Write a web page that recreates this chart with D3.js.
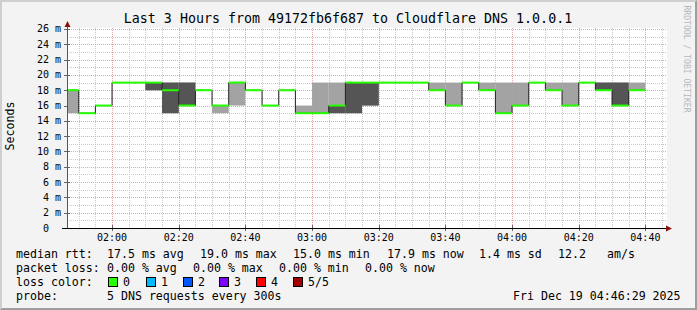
<!DOCTYPE html>
<html>
<head>
<meta charset="utf-8">
<script src="https://cdn.jsdelivr.net/npm/d3@7"></script>
<style>
  body { margin: 0; background: #f3f3f3; }
  svg text { font-family: "DejaVu Sans Mono", monospace; fill: #000; white-space: pre; }
</style>
</head>
<body>
<svg id="chart" width="697" height="310"></svg>
<script>
// sample end times (each covers the 5 minutes before it)
const sampleTimes = ["01:50","01:55","02:00","02:05","02:10","02:15","02:20","02:25","02:30","02:35",
  "02:40","02:45","02:50","02:55","03:00","03:05","03:10","03:15","03:20","03:25",
  "03:30","03:35","03:40","03:45","03:50","03:55","04:00","04:05","04:10","04:15",
  "04:20","04:25","04:30","04:35","04:40"];
// ms
const median = [18,15,16,19,19,19,18,16,18,16,19,18,16,18,15,15,16,19,19,19,19,19,18,16,19,18,15,16,19,18,16,19,18,16,18];
const pingMin = [15,15,16,19,19,18,15,16,18,15,16,18,16,18,15,15,15,15,16,19,19,19,18,16,19,18,15,16,19,18,16,19,18,16,18];
const pingLo  = [18,15,16,19,19,18,15,16,18,16,19,18,16,18,15,15,15,15,16,19,19,19,18,16,19,18,15,16,19,18,16,19,18,16,18];
const pingHi  = [18,15,16,19,19,19,19,19,18,16,19,18,16,18,15,15,16,19,19,19,19,19,18,16,19,18,15,16,19,18,16,19,19,19,18];
const pingMax = [18,15,16,19,19,19,19,19,18,16,19,18,16,18,16,19,19,19,19,19,19,19,19,19,19,19,19,19,19,19,19,19,19,19,19];

const yTickLabels = ["0","2 m","4 m","6 m","8 m","10 m","12 m","14 m","16 m","18 m","20 m","22 m","24 m","26 m"];
const xTickLabels = ["02:00","02:20","02:40","03:00","03:20","03:40","04:00","04:20","04:40"];

const lossLabels = ["0","1","2","3","4","5/5"];
const lossColors = ["#26ff00","#00b8ff","#0059ff","#7e00ff","#ff0000","#a10000"];

const day = "2025-12-19 ";
const parse = d3.timeParse("%Y-%m-%d %H:%M:%S");
const tStart = parse(day + "01:46:29"), tEnd = parse(day + "04:46:29");
const times = sampleTimes.map(s => parse(day + s + ":00"));

const svg = d3.select("#chart");
const W = 697, H = 310;

// frame
svg.append("rect").attr("width", W).attr("height", H).attr("fill", "#9e9e9e");
svg.append("path").attr("d", `M0,0H${W}L${W-2},2H2V${H-2}L0,${H}Z`).attr("fill", "#cfcfcf");
svg.append("rect").attr("x", 2).attr("y", 2).attr("width", W - 4).attr("height", H - 4).attr("fill", "#f3f3f3");

const x = d3.scaleTime().domain([tStart, tEnd]).range([67, 667]);
const y = d3.scaleLinear().domain([0, 26.13]).range([228, 28]);
const px = v => Math.round(v) + 0.5;

svg.append("rect").attr("x", 67).attr("y", 28).attr("width", 600).attr("height", 200).attr("fill", "#fff");

// grid
const g = svg.append("g");
d3.range(1, 27).filter(v => v % 2).forEach(v => {
  g.append("line").attr("x1", 67).attr("x2", 667).attr("y1", px(y(v))).attr("y2", px(y(v)))
    .attr("stroke", "#c8c8c8").attr("stroke-dasharray", "1,1");
});
d3.timeMinute.every(5).range(tStart, tEnd).filter(t => t.getMinutes() % 20).forEach(t => {
  g.append("line").attr("y1", 28).attr("y2", 228).attr("x1", px(x(t))).attr("x2", px(x(t)))
    .attr("stroke", "#c8c8c8").attr("stroke-dasharray", "1,1");
});
yTickLabels.forEach((lab, i) => {
  const v = i * 2;
  if (v > 0) g.append("line").attr("x1", 67).attr("x2", 667).attr("y1", px(y(v))).attr("y2", px(y(v)))
    .attr("stroke", "#f2a0a0").attr("stroke-dasharray", "1,1");
  svg.append("text").attr("x", 61).attr("y", y(v) + 3.5).attr("text-anchor", "end")
    .attr("font-size", "10px").text(v === 0 ? lab + "  " : lab);
  svg.append("line").attr("x1", 64).attr("x2", 70).attr("y1", px(y(v))).attr("y2", px(y(v))).attr("stroke", "#666");
});
xTickLabels.forEach(lab => {
  const t = parse(day + lab + ":00");
  g.append("line").attr("y1", 28).attr("y2", 228).attr("x1", px(x(t))).attr("x2", px(x(t)))
    .attr("stroke", "#f2a0a0").attr("stroke-dasharray", "1,1");
  svg.append("text").attr("x", x(t)).attr("y", 241).attr("text-anchor", "middle")
    .attr("font-size", "10px").text(lab);
  svg.append("line").attr("x1", px(x(t))).attr("x2", px(x(t))).attr("y1", 225).attr("y2", 231).attr("stroke", "#666");
});

// smoke + median
const fiveMin = 5 * 60 * 1000;
const segs = times.map((t, i) => ({
  x0: x(new Date(Math.max(+tStart, +t - fiveMin))), x1: x(t),
  med: median[i], mn: pingMin[i], lo: pingLo[i], hi: pingHi[i], mx: pingMax[i]
}));
const data = svg.append("g");
data.selectAll(".light").data(segs).enter().append("rect")
  .attr("x", d => d.x0).attr("width", d => d.x1 - d.x0)
  .attr("y", d => y(d.mx)).attr("height", d => y(d.mn) - y(d.mx)).attr("fill", "#a3a3a3");
data.selectAll(".dark").data(segs).enter().append("rect")
  .attr("x", d => d.x0).attr("width", d => d.x1 - d.x0)
  .attr("y", d => y(d.hi)).attr("height", d => y(d.lo) - y(d.hi)).attr("fill", "#555555");

const stepLine = d3.line().curve(d3.curveStepBefore);
const pts = [[segs[0].x0, y(segs[0].med)]].concat(segs.map(d => [d.x1, y(d.med)]));
data.append("path").attr("d", stepLine(pts)).attr("fill", "none").attr("stroke", "#202020").attr("stroke-width", 1);
data.selectAll(".med").data(segs).enter().append("line")
  .attr("x1", d => d.x0).attr("x2", d => d.x1).attr("y1", d => y(d.med)).attr("y2", d => y(d.med))
  .attr("stroke", lossColors[0]).attr("stroke-width", 2);

// axes
svg.append("line").attr("x1", 67.5).attr("x2", 67.5).attr("y1", 228).attr("y2", 24).attr("stroke", "#555");
svg.append("line").attr("x1", 62).attr("x2", 668).attr("y1", 228.5).attr("y2", 228.5).attr("stroke", "#000");
svg.append("path").attr("d", "M64.5,27L67.5,21L70.5,27Z").attr("fill", "#8b1010");
svg.append("path").attr("d", "M666,225.5L672,228.5L666,231.5Z").attr("fill", "#8b1010");

// texts
svg.append("text").attr("x", 348).attr("y", 23).attr("text-anchor", "middle").attr("font-size", "13.3px")
  .text("Last 3 Hours from 49172fb6f687 to Cloudflare DNS 1.0.0.1");
svg.append("text").attr("transform", "translate(14,126) rotate(-90)").attr("text-anchor", "middle")
  .attr("font-size", "11.6px").text("Seconds");
svg.append("text").attr("transform", "translate(684,59) rotate(90)").attr("text-anchor", "middle")
  .attr("font-size", "8.1px").style("fill", "#b8b8b8").text("RRDTOOL / TOBI OETIKER");

const fs = "11.6px";
const leg = (tx, lx, ly) => svg.append("text").attr("x", lx).attr("y", ly).attr("font-size", fs).text(tx);
[["median rtt:",16],["17.5 ms avg",107],["19.0 ms max",200],["15.0 ms min",293],["17.9 ms now",387],
 ["1.4 ms sd",479],["12.2",558],["am/s",607]].forEach(d => leg(d[0], d[1], 258));
[["packet loss:",16],["0.00 % avg",107],["0.00 % max",193],["0.00 % min",279],["0.00 % now",365]]
  .forEach(d => leg(d[0], d[1], 272));
leg("loss color:", 16, 286);
const boxX = [108,146,183,219,256,293];
lossLabels.forEach((l, i) => {
  svg.append("rect").attr("x", boxX[i] + 0.5).attr("y", 277.5).attr("width", 9).attr("height", 9)
    .attr("fill", lossColors[i]).attr("stroke", "#000");
  leg(l, boxX[i] + 15, 286);
});
leg("probe:", 16, 300);
leg("5 DNS requests every 300s", 107, 300);
leg("Fri Dec 19 04:46:29 2025", 513, 300);
</script>
</body>
</html>
